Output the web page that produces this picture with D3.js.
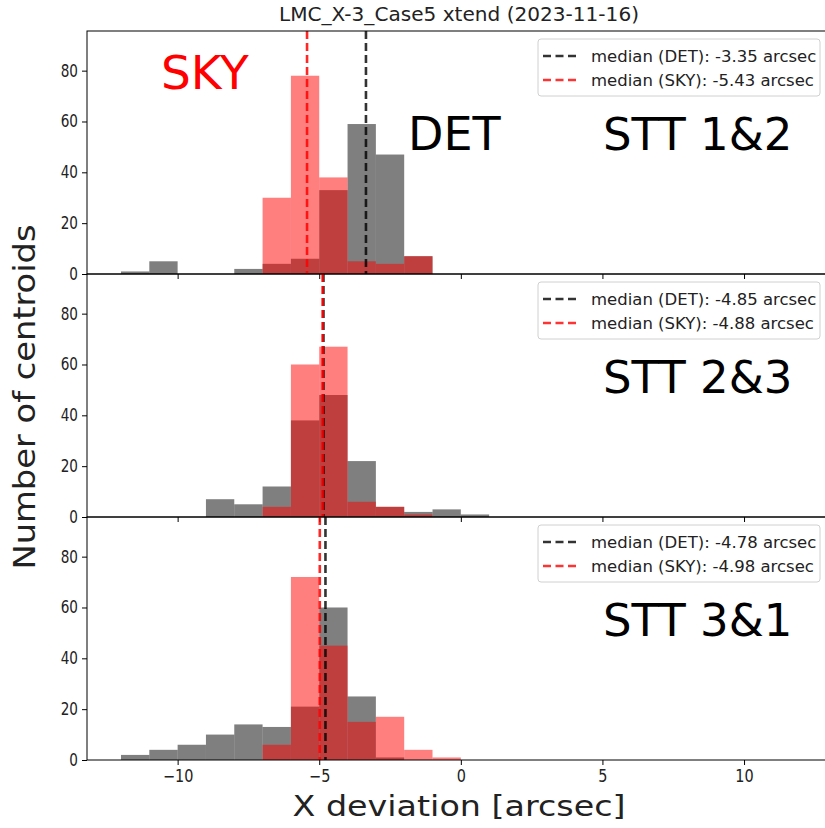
<!DOCTYPE html>
<html>
<head>
<meta charset="utf-8">
<script src="https://cdn.jsdelivr.net/npm/d3@7"></script>
<style>
  body { margin: 0; background: #fff; }
  text { font-family: "DejaVu Sans", sans-serif; }
</style>
</head>
<body>
<div id="chart"></div>
<script>
// bin lower edges (bins are 1 arcsec wide)
const binStarts = [-12, -11, -10, -9, -8, -7, -6, -5, -4, -3, -2, -1, 0];

// counts per bin, DET (grey) and SKY (red), one pair per STT combination
const det12 = [1, 5, 0, 0, 2, 4, 6, 33, 59, 47, 7, 0, 0];
const sky12 = [0, 0, 0, 0, 0, 30, 78, 38, 5, 4, 7, 0, 0];
const det23 = [0, 0, 0, 7, 5, 12, 38, 48, 22, 4, 2, 3, 1];
const sky23 = [0, 0, 0, 0, 0, 4, 60, 67, 6, 4, 1, 0, 0];
const det31 = [2, 4, 6, 10, 14, 13, 21, 60, 25, 1, 0, 0, 0];
const sky31 = [0, 0, 0, 0, 0, 6, 72, 45, 15, 17, 4, 1, 0];

const panelNames = ["STT 1&2", "STT 2&3", "STT 3&1"];
const medianDet = [-3.35, -4.85, -4.78];
const medianSky = [-5.43, -4.88, -4.98];
const xTicks = [-10, -5, 0, 5, 10];
const yTicks = [0, 20, 40, 60, 80];

const panels = [
  { name: panelNames[0], det: det12, sky: sky12, mDet: medianDet[0], mSky: medianSky[0] },
  { name: panelNames[1], det: det23, sky: sky23, mDet: medianDet[1], mSky: medianSky[1] },
  { name: panelNames[2], det: det31, sky: sky31, mDet: medianDet[2], mSky: medianSky[2] },
];

const W = 825, H = 828;
const left = 87, right = 829, top0 = 31, ph = 243;

const svg = d3.select("#chart").append("svg")
  .attr("width", W).attr("height", H);

const x = d3.scaleLinear().domain([-13.2, 13]).range([left, right]);
const y = d3.scaleLinear().domain([0, 95.6]).range([ph, 0]);

// squeeze text horizontally, the source picture is a bit narrow
function squeeze(sel, f) {
  sel.each(function () {
    const len = this.getComputedTextLength();
    d3.select(this).attr("textLength", len * f).attr("lengthAdjust", "spacingAndGlyphs");
  });
}

panels.forEach((p, i) => {
  const g = svg.append("g").attr("transform", "translate(0," + (top0 + i * ph) + ")");

  const clipId = "clip" + i;
  g.append("clipPath").attr("id", clipId)
    .append("rect").attr("x", left).attr("y", 0).attr("width", right - left).attr("height", ph);
  const plot = g.append("g").attr("clip-path", "url(#" + clipId + ")");

  // DET histogram
  plot.selectAll(".det").data(binStarts).enter().append("rect")
    .attr("x", d => x(d))
    .attr("width", d => x(d + 1) - x(d))
    .attr("y", (d, j) => y(p.det[j]))
    .attr("height", (d, j) => y(0) - y(p.det[j]))
    .attr("fill", "black").attr("fill-opacity", 0.5);

  // SKY histogram
  plot.selectAll(".sky").data(binStarts).enter().append("rect")
    .attr("x", d => x(d))
    .attr("width", d => x(d + 1) - x(d))
    .attr("y", (d, j) => y(p.sky[j]))
    .attr("height", (d, j) => y(0) - y(p.sky[j]))
    .attr("fill", "red").attr("fill-opacity", 0.5);

  // median lines
  plot.append("line")
    .attr("x1", x(p.mDet)).attr("x2", x(p.mDet)).attr("y1", 0).attr("y2", ph)
    .attr("stroke", "black").attr("stroke-opacity", 0.8)
    .attr("stroke-width", 2.6).attr("stroke-dasharray", "8,4");
  plot.append("line")
    .attr("x1", x(p.mSky)).attr("x2", x(p.mSky)).attr("y1", 0).attr("y2", ph)
    .attr("stroke", "red").attr("stroke-opacity", 0.85)
    .attr("stroke-width", 2.6).attr("stroke-dasharray", "8,4");

  // axes
  const ya = g.append("g").attr("transform", "translate(" + left + ",0)")
    .call(d3.axisLeft(y).tickValues(yTicks).tickSize(5).tickPadding(4));
  ya.select(".domain").remove();
  ya.selectAll("text").attr("font-size", 17).attr("fill", "#222")
    .attr("font-family", "DejaVu Sans");
  squeeze(ya.selectAll("text"), 0.8);

  const xa = g.append("g").attr("transform", "translate(0," + ph + ")")
    .call(d3.axisBottom(x).tickValues(xTicks).tickSize(5).tickPadding(5)
      .tickFormat(i === 2 ? (d => d3.format("")(d).replace("-", "\u2212")) : () => ""));
  xa.select(".domain").remove();
  xa.selectAll("text").attr("font-size", 17).attr("fill", "#222")
    .attr("font-family", "DejaVu Sans");
  if (i === 2) squeeze(xa.selectAll("text"), 0.85);

  // frame
  g.append("rect").attr("x", left).attr("y", 0)
    .attr("width", right - left).attr("height", ph)
    .attr("fill", "none").attr("stroke", "black").attr("stroke-width", 1);

  // legend
  const lg = g.append("g").attr("transform", "translate(538,8)");
  lg.append("rect").attr("width", 282).attr("height", 57).attr("rx", 3)
    .attr("fill", "white").attr("fill-opacity", 0.8)
    .attr("stroke", "#d0d0d0").attr("stroke-width", 1);
  const items = [
    { c: "black", label: "median (DET): " + p.mDet.toFixed(2) + " arcsec" },
    { c: "red", label: "median (SKY): " + p.mSky.toFixed(2) + " arcsec" },
  ];
  items.forEach((it, k) => {
    const yy = 17 + k * 24;
    lg.append("line").attr("x1", 5).attr("x2", 41).attr("y1", yy).attr("y2", yy)
      .attr("stroke", it.c).attr("stroke-opacity", 0.8)
      .attr("stroke-width", 2.4).attr("stroke-dasharray", "8,4.5");
    lg.append("text").attr("x", 53).attr("y", yy).attr("dy", "0.35em")
      .attr("font-size", 16.5).attr("fill", "#222")
      .text(it.label);
  });

  // big annotation
  g.append("text").attr("x", 603).attr("y", 119)
    .attr("font-family", "Liberation Sans, Arial, sans-serif")
    .attr("font-size", 45).attr("fill", "black")
    .text(p.name);
});

// SKY / DET tags on the first panel
svg.append("text").attr("x", 161).attr("y", 89)
  .attr("font-family", "Liberation Sans, Arial, sans-serif")
  .attr("font-size", 47).attr("fill", "red").text("SKY");
svg.append("text").attr("x", 408).attr("y", 150)
  .attr("font-family", "Liberation Sans, Arial, sans-serif")
  .attr("font-size", 46).attr("fill", "black").text("DET");

// title and axis labels
svg.append("text").attr("x", 459).attr("y", 21).attr("text-anchor", "middle")
  .attr("font-size", 19).attr("fill", "#222")
  .attr("textLength", 360).attr("lengthAdjust", "spacingAndGlyphs")
  .text("LMC_X-3_Case5 xtend (2023-11-16)");

svg.append("text").attr("x", 459).attr("y", 816).attr("text-anchor", "middle")
  .attr("font-size", 29).attr("fill", "#222")
  .attr("textLength", 333).attr("lengthAdjust", "spacingAndGlyphs")
  .text("X deviation [arcsec]");

svg.append("text")
  .attr("transform", "translate(35,397) rotate(-90)")
  .attr("text-anchor", "middle")
  .attr("font-size", 30).attr("fill", "#222")
  .attr("textLength", 345).attr("lengthAdjust", "spacingAndGlyphs")
  .text("Number of centroids");
</script>
</body>
</html>
